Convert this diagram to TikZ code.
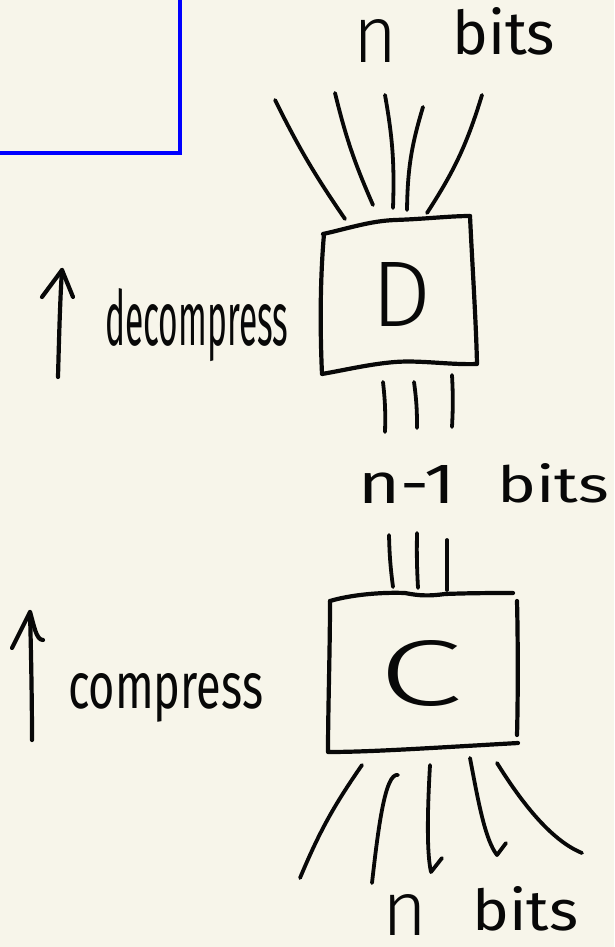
\documentclass[tikz,border=0pt]{standalone}
\usepackage{fontspec}
\setmainfont{Fira Sans}
\newfontfamily\lightface{Fira Sans Light}
\definecolor{paper}{RGB}{247,245,234}
\definecolor{ink}{RGB}{8,8,8}
\definecolor{frame}{RGB}{0,0,255}
% handwritten label: width, height above the baseline, text
\newcommand{\hand}[3]{\resizebox{#1pt}{#2pt}{\fontsize{50}{50}\selectfont #3}}
\newcommand{\handlight}[3]{\resizebox{#1pt}{#2pt}{\lightface\fontsize{50}{50}\selectfont #3}}
\tikzset{
  pen/.style={draw=ink, line width=4.2pt, line cap=round, line join=round},
  wire/.style={pen, line width=3.8pt},
  label/.style={inner sep=0pt, anchor=base west, text=ink},
}
\begin{document}
\begin{tikzpicture}[x=1pt, y=-1pt]
  \useasboundingbox (0,0) rectangle (614,947);
  \fill[paper] (0,0) rectangle (614,947);

  % corner of the blue frame
  \draw[frame, line width=3.4pt] (-10,153) -- (180,153) -- (180,-10);

  % ---- decoder ----
  \node[label] (topN) at (353,63) {\handlight{44}{43}{n}};
  \node[label] (topBits) at (452,55) {\hand{103}{47}{bits}};

  \coordinate (dt1) at (275,100); \coordinate (db1) at (345,219);
  \coordinate (dt2) at (335,93);  \coordinate (db2) at (373,205);
  \coordinate (dt3) at (385,95);  \coordinate (db3) at (393,208);
  \coordinate (dt4) at (423,107); \coordinate (db4) at (407,210);
  \coordinate (dt5) at (482,95);  \coordinate (db5) at (427,213);
  \draw[wire] (dt1) to[bend right=4] (db1);
  \draw[wire] (dt2) to[bend right=5] (db2);
  \draw[wire] (dt3) to[bend left=6] (db3);
  \draw[wire] (dt4) to[bend right=8] (db4);
  \draw[wire] (dt5) to[bend left=8] (db5);

  % box D outline
  \draw[pen] (323,234) .. controls (350,228) and (370,221) .. (395,220)
             .. controls (425,219) and (450,216) .. (470,216);
  \draw[pen] (470,216) .. controls (472,260) and (476,320) .. (477,364)
             .. controls (450,365) and (420,360) .. (395,362)
             .. controls (370,364) and (345,370) .. (322,374)
             .. controls (320,330) and (320,280) .. (324,234);
  \node[label] (D) at (371,326) {\handlight{60}{64}{D}};

  % ---- n-1 wires ----
  \coordinate (mt1) at (383,382); \coordinate (mb1) at (385,432);
  \coordinate (mt2) at (414,382); \coordinate (mb2) at (417,428);
  \coordinate (mt3) at (452,375); \coordinate (mb3) at (452,427);
  \draw[wire] (mt1) to[bend left=4] (mb1);
  \draw[wire] (mt2) to[bend left=4] (mb2);
  \draw[wire] (mt3) to[bend left=3] (mb3);

  \node[label] (midN) at (358,503) {\hand{97}{38}{n-1}};
  \node[label] (midBits) at (497,502) {\hand{112}{39}{bits}};

  \coordinate (ct1) at (389,535); \coordinate (cb1) at (393,587);
  \coordinate (ct2) at (417,533); \coordinate (cb2) at (418,588);
  \coordinate (ct3) at (447,540); \coordinate (cb3) at (447,590);
  \draw[wire] (ct1) to[bend right=3] (cb1);
  \draw[wire] (ct2) to[bend right=2] (cb2);
  \draw[wire] (ct3) to (cb3);

  % ---- compressor ----
  \draw[pen] (330,601) .. controls (350,595) and (380,592) .. (405,593)
             .. controls (420,596) and (430,596) .. (445,594)
             .. controls (470,593) and (495,593) .. (513,593);
  \draw[pen] (517,601) .. controls (518,640) and (518,700) .. (517,735);
  \draw[pen] (330,601) .. controls (330,650) and (328,710) .. (328,752)
             .. controls (370,752) and (430,748) .. (518,743);
  \node[label] (C) at (378,705) {\handlight{84}{65}{C}};

  \coordinate (et1) at (362,765); \coordinate (eb1) at (300,878);
  \coordinate (et2) at (398,775); \coordinate (eb2) at (372,883);
  \coordinate (et3) at (430,765); \coordinate (eb3) at (431,872);
  \coordinate (et4) at (470,758); \coordinate (eb4) at (497,855);
  \coordinate (et5) at (497,763); \coordinate (eb5) at (582,853);
  \draw[wire] (et1) to[bend right=6] (eb1);
  \draw[wire] (et2) .. controls (385,772) and (378,830) .. (eb2);
  \draw[wire] (et3) .. controls (428,800) and (426,850) .. (eb3) -- (442,858);
  \draw[wire] (et4) .. controls (478,800) and (485,840) .. (eb4) -- (506,843);
  \draw[wire] (et5) .. controls (520,800) and (550,840) .. (eb5);

  \node[label] (botN) at (382,935) {\handlight{45}{41}{n}};
  \node[label] (botBits) at (472,930) {\hand{106}{44}{bits}};

  % ---- direction arrows ----
  \node[label] (decomp) at (105,345) {\hand{183}{57}{decompress}};
  \coordinate (da0) at (58,377); \coordinate (da1) at (62,270);
  \draw[pen] (da0) .. controls (59,340) and (60,300) .. (da1);
  \draw[pen] (42,297) -- (da1) -- (73,297);

  \node[label] (comp) at (68,708) {\hand{195}{35}{compress}};
  \coordinate (ca0) at (32,740); \coordinate (ca1) at (30,612);
  \draw[pen] (ca0) .. controls (32,700) and (31,650) .. (ca1);
  \draw[pen] (12,648) -- (ca1) .. controls (34,625) and (36,640) .. (43,640);
\end{tikzpicture}
\end{document}
